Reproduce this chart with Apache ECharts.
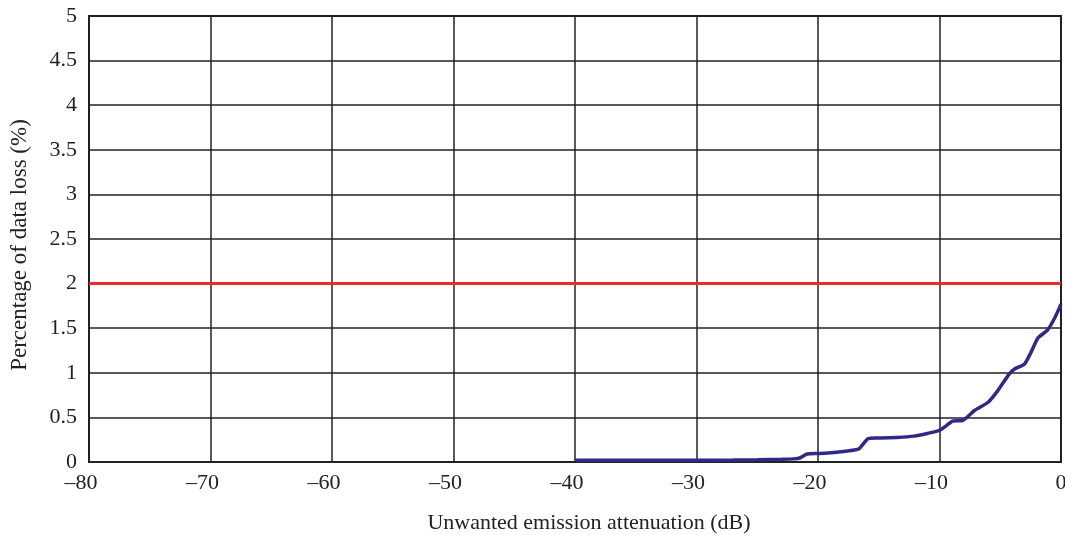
<!DOCTYPE html>
<html>
<head>
<meta charset="utf-8">
<script src="https://cdn.jsdelivr.net/npm/echarts@6/dist/echarts.min.js"></script>
<style>
html,body{margin:0;padding:0;background:#fff;}
#chart{width:1065px;height:535px;}
</style>
</head>
<body>
<div id="chart"></div>
<script>
const attenuation = [-40, -35, -30, -27, -25, -23, -22, -21.5, -20.9, -20, -19.2, -18.1, -17, -16.6, -15.9, -15.3, -14.8, -13.5, -12.1, -11, -10, -9.5, -8.9, -8.1, -7.1, -6, -5.2, -4.3, -3.85, -3, -2.5, -1.9, -1.1, -0.5, 0];
const dataLoss = [0.02, 0.02, 0.02, 0.022, 0.025, 0.03, 0.035, 0.045, 0.09, 0.095, 0.1, 0.115, 0.135, 0.15, 0.26, 0.27, 0.27, 0.275, 0.29, 0.32, 0.355, 0.4, 0.46, 0.465, 0.58, 0.67, 0.8, 0.98, 1.04, 1.1, 1.22, 1.39, 1.48, 1.62, 1.77];
const thresholdX = [-80, 0];
const thresholdY = [2, 2];
const xTitle = 'Unwanted emission attenuation (dB)';
const yTitle = 'Percentage of data loss (%)';

const font = 'Liberation Serif, Times New Roman, serif';
const chart = echarts.init(document.getElementById('chart'));
chart.setOption({
  animation: false,
  backgroundColor: '#fff',
  grid: {left: 89, right: 4, top: 16, bottom: 73, show: true, borderColor: '#222', borderWidth: 2,
    containLabel: false, outerBoundsMode: 'none'},
  xAxis: {
    type: 'value', min: -80, max: 0, interval: 10,
    name: xTitle, nameLocation: 'middle', nameGap: 50,
    nameTextStyle: {fontFamily: font, fontSize: 22, color: '#222', padding: [0,0,0,28]},
    axisLine: {show: true, lineStyle: {color: '#222', width: 2}},
    axisTick: {show: false},
    axisLabel: {fontFamily: font, fontSize: 22, color: '#222', margin: 10,
      formatter: v => (v < 0 ? '{n|\u2013' + Math.abs(v) + '}' : String(v)),
      rich: {n: {fontFamily: font, fontSize: 22, color: '#222', padding: [0, 16, 0, 0]}}},
    splitLine: {show: true, lineStyle: {color: '#222', width: 1.5}}
  },
  yAxis: {
    type: 'value', min: 0, max: 5, interval: 0.5,
    name: yTitle, nameLocation: 'middle', nameGap: 58, nameRotate: 90,
    nameTextStyle: {fontFamily: font, fontSize: 23, color: '#222', padding: [0,12,0,0]},
    axisLine: {show: true, lineStyle: {color: '#222', width: 2}},
    axisTick: {show: false},
    axisLabel: {fontFamily: font, fontSize: 22, color: '#222', margin: 12},
    splitLine: {show: true, lineStyle: {color: '#222', width: 1.5}}
  },
  series: [
    {
      type: 'line', data: thresholdX.map((x, i) => [x, thresholdY[i]]),
      symbol: 'none', lineStyle: {color: '#ee2a2a', width: 3}, z: 3
    },
    {
      type: 'line', data: attenuation.map((x, i) => [x, dataLoss[i]]),
      symbol: 'none', smooth: 0.2, lineStyle: {color: '#2f2a88', width: 3.5}, z: 4
    }
  ]
});
</script>
</body>
</html>
